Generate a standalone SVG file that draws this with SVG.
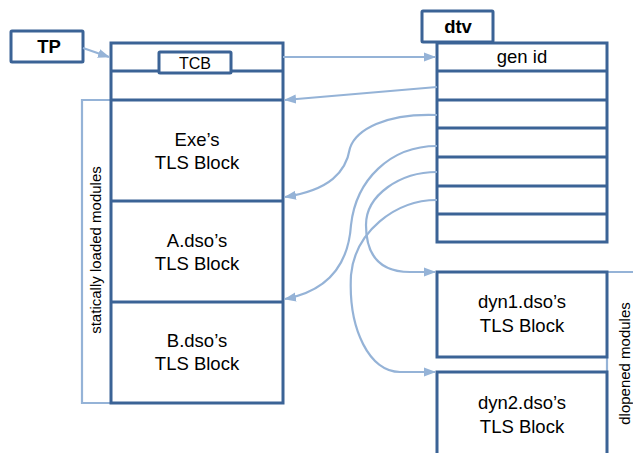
<svg xmlns="http://www.w3.org/2000/svg" width="633" height="453" viewBox="0 0 633 453">
<style>
.dk{fill:#fff;stroke:#3B6396;stroke-width:3}
.dl{fill:none;stroke:#3B6396;stroke-width:3}
.lt{fill:none;stroke:#95B3D7;stroke-width:2.2}
.t{font-family:"Liberation Sans",Arial,sans-serif;font-size:18.5px;fill:#000;text-anchor:middle}
.b{font-weight:bold}
.r{font-family:"Liberation Sans",Arial,sans-serif;font-size:15px;fill:#000;text-anchor:middle}
</style>
<defs>
<marker id="ah" viewBox="0 0 12 12" refX="11" refY="6" markerWidth="12" markerHeight="12" orient="auto" markerUnits="userSpaceOnUse">
<path d="M0,1.5 L12,6 L0,10.5 Z" fill="#95B3D7"/>
</marker>
</defs>
<rect width="633" height="453" fill="#fff"/>

<g id="brackets">
<path class="lt" d="M111,100 H82 V403 H111"/>
<text class="r" transform="translate(101,250) rotate(-90)">statically loaded modules</text>
<path class="lt" d="M607,272 H633 M607,357 V372"/>
<text class="r" transform="translate(630,363.5) rotate(-90)">dlopened modules</text>
</g>

<g id="tp">
<rect class="dk" x="11" y="31" width="72" height="31" rx="1"/>
<text class="t b" x="49" y="53">TP</text>
</g>

<g id="tls-static">
<rect class="dk" x="111" y="43" width="172" height="360"/>
<path class="dl" d="M111,71 H283 M111,100 H283 M111,201 H283 M111,302 H283"/>
<text class="t" x="197" y="146">Exe’s</text>
<text class="t" x="197" y="169">TLS Block</text>
<text class="t" x="197" y="247">A.dso’s</text>
<text class="t" x="197" y="270">TLS Block</text>
<text class="t" x="197" y="347">B.dso’s</text>
<text class="t" x="197" y="370">TLS Block</text>
</g>

<g id="tcb">
<rect class="dk" x="159" y="52" width="72" height="21" rx="1"/>
<text class="t" x="195" y="69" style="font-size:16px">TCB</text>
</g>

<g id="dtv-label">
<rect class="dk" x="422" y="11" width="71" height="31" rx="1"/>
<text class="t b" x="458" y="33">dtv</text>
</g>

<g id="dtv">
<rect class="dk" x="437" y="43" width="170" height="199"/>
<path class="dl" d="M437,71 H607 M437,100 H607 M437,128 H607 M437,157 H607 M437,186 H607 M437,214 H607"/>
<text class="t" x="522" y="63">gen id</text>
</g>

<g id="dyn1">
<rect class="dk" x="437" y="272" width="170" height="85"/>
<text class="t" x="522" y="308">dyn1.dso’s</text>
<text class="t" x="522" y="332">TLS Block</text>
</g>

<g id="dyn2">
<path class="dk" d="M437,455 V372 H607 V455"/>
<text class="t" x="522" y="409">dyn2.dso’s</text>
<text class="t" x="522" y="433">TLS Block</text>
</g>

<g id="connectors">
<path class="lt" marker-end="url(#ah)" d="M83,48 L109,57"/>
<path class="lt" marker-end="url(#ah)" d="M283,57 H435"/>
<path class="lt" marker-end="url(#ah)" d="M437,87 L285,100"/>
<path class="lt" marker-end="url(#ah)" d="M437,115 C385,113 356,130 350,148 C346,172 330,190 285,197"/>
<path class="lt" marker-end="url(#ah)" d="M437,146 C390,146 356,180 351,225 C348,270 322,292 285,299"/>
<path class="lt" marker-end="url(#ah)" d="M437,172 C400,172 366,195 366,225 C366,255 380,272 410,272 L435,272"/>
<path class="lt" marker-end="url(#ah)" d="M437,200 C395,200 355,232 351,275 C348,330 370,372 400,372 L435,372"/>
</g>
</svg>
